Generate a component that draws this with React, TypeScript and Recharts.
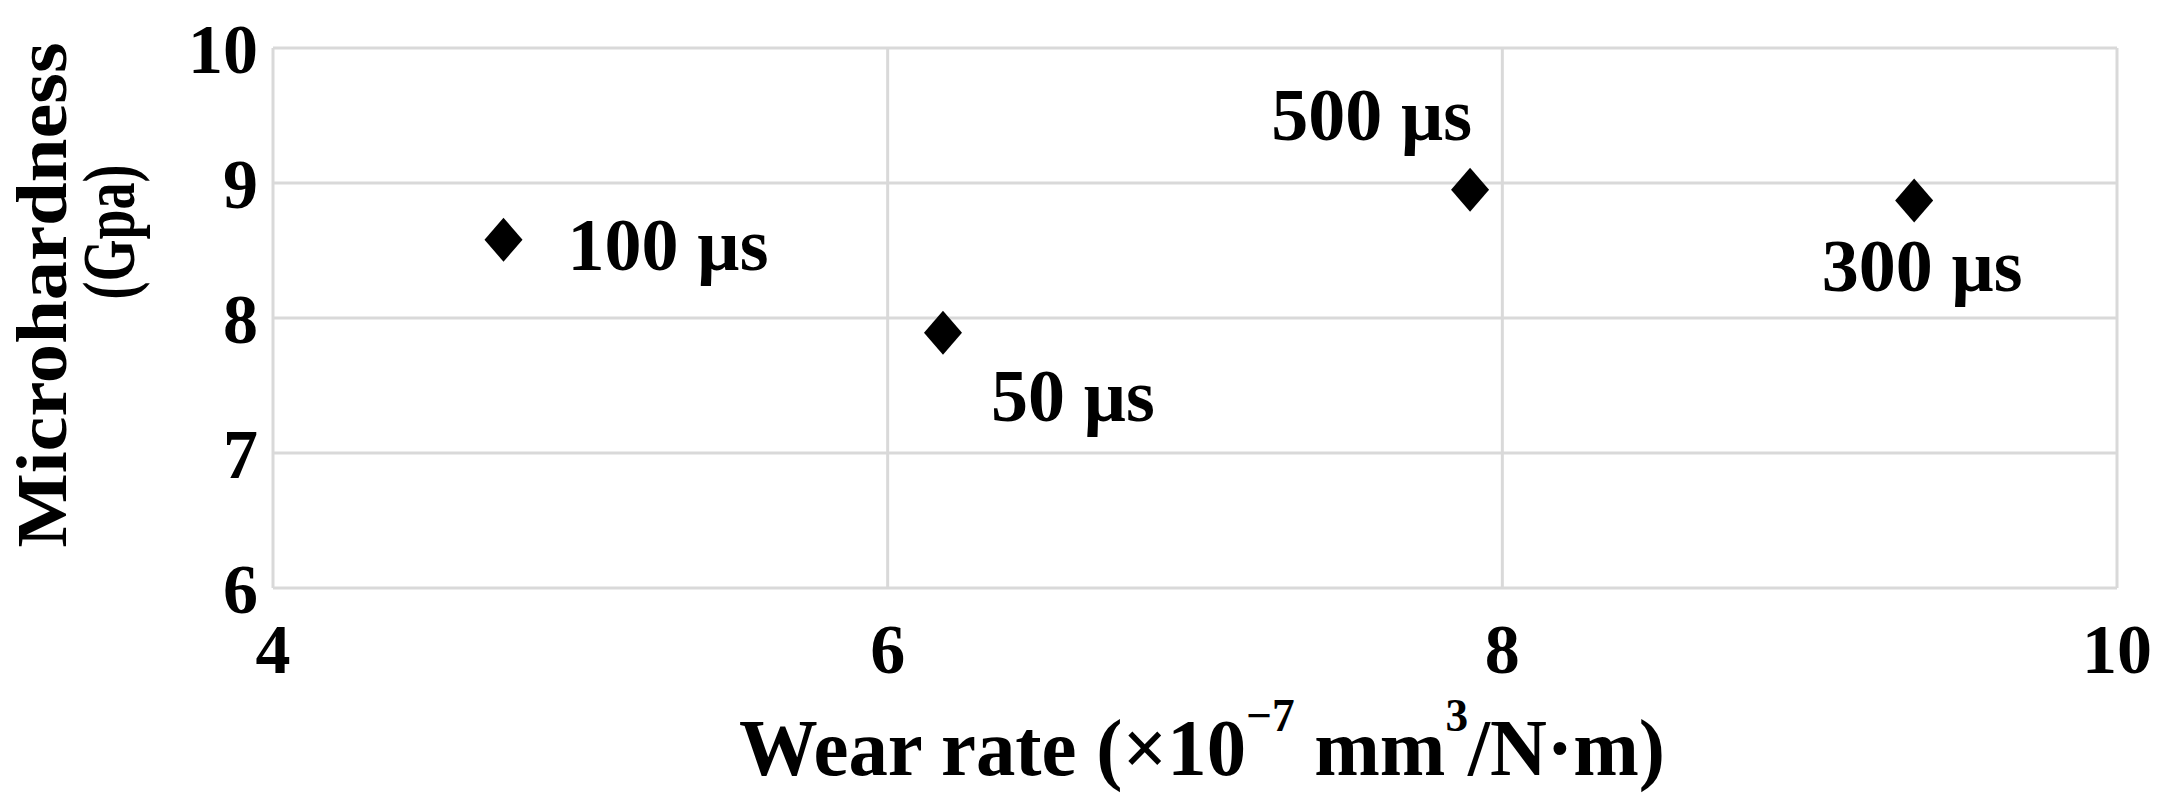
import React from 'react';
import { ScatterChart, Scatter, XAxis, YAxis, CartesianGrid } from 'recharts';

const pulseLabels = ['100 µs', '50 µs', '500 µs', '300 µs'];
const wearRate = [4.75, 6.18, 7.895, 9.34];
const microhardness = [8.58, 7.89, 8.95, 8.87];
const xTicks = [4, 6, 8, 10];
const yTicks = [6, 7, 8, 9, 10];

const data = pulseLabels.map((label, i) => ({ label, x: wearRate[i], y: microhardness[i] }));

const labelPlacement: Record<string, { dx: number; dy: number; anchor: 'start' | 'middle' | 'end' }> = {
  '100 µs': { dx: 64, dy: 30, anchor: 'start' },
  '50 µs': { dx: 48, dy: 88, anchor: 'start' },
  '500 µs': { dx: 2, dy: -50, anchor: 'end' },
  '300 µs': { dx: 8, dy: 90, anchor: 'middle' },
};

const FONT = '"Liberation Serif", "Times New Roman", serif';

const DiamondWithLabel = (props: any) => {
  const { cx, cy, payload } = props;
  const p = labelPlacement[payload.label];
  const hw = 19;
  const hh = 22;
  return (
    <g>
      <polygon
        points={`${cx},${cy - hh} ${cx + hw},${cy} ${cx},${cy + hh} ${cx - hw},${cy}`}
        fill="#000"
      />
      <text
        x={cx + p.dx}
        y={cy + p.dy}
        textAnchor={p.anchor}
        fontFamily={FONT}
        fontWeight="bold"
        fontSize={74}
        fill="#000"
      >
        {payload.label}
      </text>
    </g>
  );
};

const YTitle = () => {
  const x1 = 42;
  const y1 = 295;
  const x2 = 109;
  const y2 = 232;
  return (
    <g>
      <text
        x={x1}
        y={y1}
        transform={`rotate(-90, ${x1}, ${y1})`}
        textAnchor="middle"
        dominantBaseline="central"
        fontFamily={FONT}
        fontWeight="bold"
        fontSize={72}
        textLength={505}
        lengthAdjust="spacingAndGlyphs"
        fill="#000"
      >
        Microhardness
      </text>
      <text
        x={x2}
        y={y2}
        transform={`rotate(-90, ${x2}, ${y2})`}
        textAnchor="middle"
        dominantBaseline="central"
        fontFamily={FONT}
        fontWeight="bold"
        fontSize={74}
        textLength={135}
        lengthAdjust="spacingAndGlyphs"
        fill="#000"
      >
        (Gpa)
      </text>
    </g>
  );
};

const XTitle = (props: any) => {
  const vb = props.viewBox || { x: 273, y: 588, width: 1844, height: 209 };
  const cx = vb.x + vb.width / 2 + 7;
  const y = 775;
  return (
    <text
      x={cx}
      y={y}
      textAnchor="middle"
      fontFamily={FONT}
      fontWeight="bold"
      fontSize={80}
      textLength={926}
      lengthAdjust="spacingAndGlyphs"
      fill="#000"
    >
      <tspan>Wear rate (×10</tspan>
      <tspan fontSize={46} dy={-44}>−7</tspan>
      <tspan dy={44}> mm</tspan>
      <tspan fontSize={46} dy={-44}>3</tspan>
      <tspan dy={44}>/N·m)</tspan>
    </text>
  );
};

const tickStyle = { fill: '#000', fontSize: 70, fontWeight: 'bold', fontFamily: FONT };

export default function App() {
  return (
    <div style={{ position: 'absolute', left: 0, top: 0, background: '#fff' }}>
      <ScatterChart width={2166} height={797} margin={{ top: 48, right: 49, bottom: 0, left: 0 }}>
        <CartesianGrid stroke="#d9d9d9" strokeWidth={3} />
        <XAxis
          type="number"
          dataKey="x"
          domain={[4, 10]}
          ticks={xTicks}
          axisLine={false}
          tickLine={false}
          tickSize={0}
          tickMargin={35}
          height={209}
          tick={tickStyle}
          label={{ content: XTitle }}
        />
        <YAxis
          type="number"
          dataKey="y"
          domain={[6, 10]}
          ticks={yTicks}
          axisLine={false}
          tickLine={false}
          tickSize={0}
          tickMargin={15}
          width={273}
          tick={tickStyle}
          label={{ content: YTitle }}
        />
        <Scatter data={data} fill="#000" shape={DiamondWithLabel} isAnimationActive={false} />
      </ScatterChart>
    </div>
  );
}
